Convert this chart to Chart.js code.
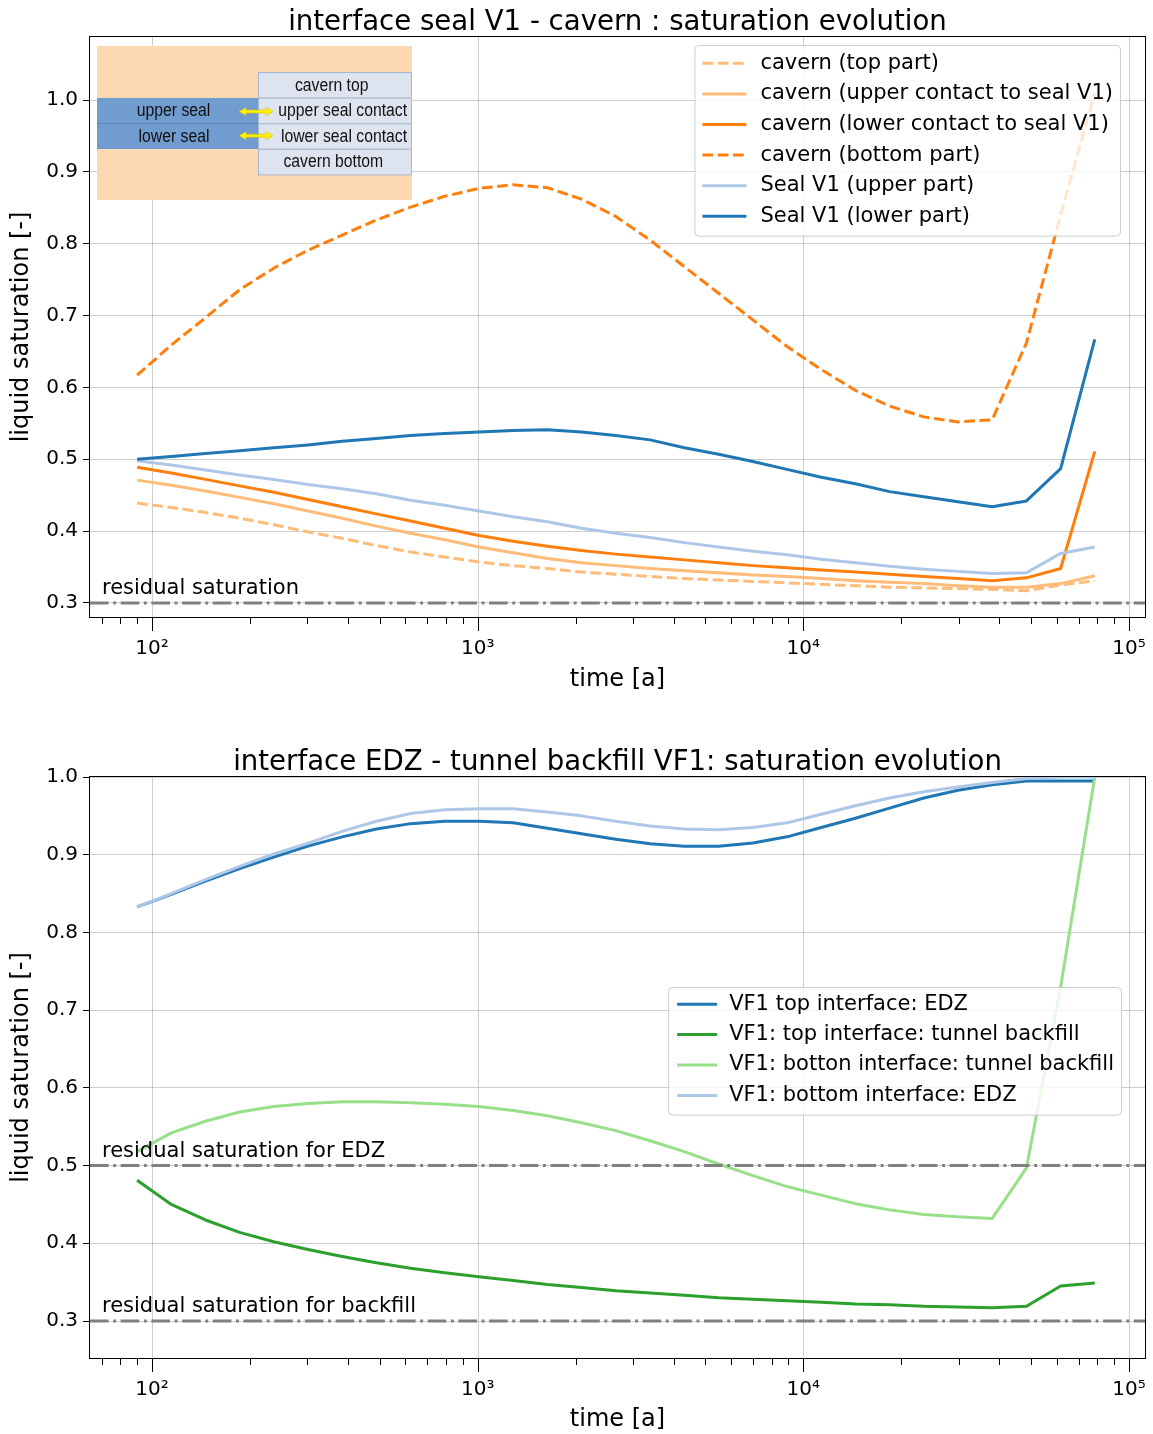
<!DOCTYPE html>
<html><head><meta charset="utf-8">
<script src="https://cdn.jsdelivr.net/npm/chart.js@4.4.1/dist/chart.umd.min.js"></script>
<style>
html,body{margin:0;padding:0;background:#fff;}
#wrap{position:relative;width:1153px;height:1434px;background:#fff;}
canvas{position:absolute;left:0;}
</style></head><body>
<div id="wrap">
<canvas id="c1" width="1153" height="717" style="top:0;width:1153px;height:717px"></canvas>
<canvas id="c2" width="1153" height="717" style="top:717px;width:1153px;height:717px"></canvas>
</div>
<script>
// ---------------- data ----------------
const time = [90, 114.6, 145.9, 185.8, 236.6, 301.3, 383.7, 488.6, 622.2, 792.4, 1009, 1285, 1637, 2084, 2655, 3385, 4313, 5495, 6998, 8913, 11350, 14450, 18410, 23440, 29860, 38030, 48440, 61690, 78520];

// top chart: interface seal V1 - cavern
const cavernTop = [0.439,0.433,0.426,0.418,0.409,0.399,0.390,0.380,0.371,0.364,0.357,0.352,0.348,0.343,0.340,0.337,0.334,0.332,0.330,0.328,0.326,0.324,0.322,0.321,0.320,0.319,0.317,0.325,0.331];
const cavernUpperContact = [0.471,0.464,0.456,0.447,0.438,0.428,0.418,0.407,0.397,0.388,0.378,0.370,0.362,0.356,0.352,0.348,0.345,0.342,0.339,0.337,0.334,0.331,0.329,0.327,0.324,0.322,0.322,0.327,0.338];
const cavernLowerContact = [0.489,0.481,0.472,0.463,0.454,0.444,0.434,0.424,0.414,0.404,0.394,0.386,0.379,0.373,0.368,0.364,0.360,0.356,0.352,0.349,0.346,0.343,0.340,0.337,0.334,0.331,0.335,0.348,0.511];
const cavernBottom = [0.617,0.659,0.697,0.736,0.766,0.791,0.812,0.833,0.851,0.866,0.877,0.882,0.878,0.862,0.838,0.805,0.768,0.731,0.694,0.657,0.625,0.596,0.574,0.559,0.552,0.555,0.662,0.840,1.010];
const sealUpper = [0.498,0.492,0.485,0.478,0.472,0.465,0.459,0.452,0.443,0.436,0.428,0.420,0.413,0.404,0.397,0.391,0.384,0.378,0.372,0.367,0.361,0.356,0.351,0.347,0.344,0.341,0.342,0.369,0.378];
const sealLower = [0.500,0.504,0.508,0.512,0.516,0.520,0.525,0.529,0.533,0.536,0.538,0.540,0.541,0.538,0.533,0.527,0.516,0.507,0.497,0.486,0.475,0.466,0.455,0.448,0.441,0.434,0.442,0.487,0.667];

// bottom chart: interface EDZ - tunnel backfill VF1
const edzTop = [0.833,0.849,0.866,0.882,0.897,0.911,0.923,0.933,0.940,0.943,0.943,0.941,0.934,0.927,0.920,0.914,0.911,0.911,0.915,0.923,0.935,0.947,0.960,0.973,0.983,0.990,0.995,0.995,0.995];
const backfillTop = [0.481,0.450,0.430,0.414,0.402,0.392,0.383,0.375,0.368,0.362,0.357,0.352,0.347,0.343,0.339,0.336,0.333,0.330,0.328,0.326,0.324,0.322,0.321,0.319,0.318,0.317,0.319,0.345,0.349];
const backfillBottom = [0.518,0.542,0.557,0.569,0.576,0.580,0.582,0.582,0.581,0.579,0.576,0.571,0.564,0.555,0.545,0.532,0.518,0.502,0.487,0.473,0.462,0.451,0.443,0.437,0.434,0.432,0.497,0.730,1.000];
const edzBottom = [0.833,0.850,0.868,0.885,0.901,0.915,0.930,0.943,0.953,0.958,0.959,0.959,0.955,0.950,0.943,0.937,0.933,0.932,0.935,0.941,0.952,0.963,0.973,0.981,0.987,0.993,0.998,1.000,1.000];

// axes / ticks
const xTickValues = [70,80,90,100,200,300,400,500,600,700,800,900,1000,2000,3000,4000,5000,6000,7000,8000,9000,10000,20000,30000,40000,50000,60000,70000,80000,90000,100000];
const xMajorTicks = [100, 1000, 10000, 100000];
const xTickLabels = ['10²', '10³', '10⁴', '10⁵'];
const yTicks = [0.3, 0.4, 0.5, 0.6, 0.7, 0.8, 0.9, 1.0];

const residualLevelsTop = [0.3];
const residualLabelsTop = ['residual saturation'];
const residualLevelsBottom = [0.5, 0.3];
const residualLabelsBottom = ['residual saturation for EDZ', 'residual saturation for backfill'];

const insetBoxesRight = ['cavern top', 'upper seal contact', 'lower seal contact', 'cavern bottom'];
const insetBoxesLeft = ['upper seal', 'lower seal'];

// ---------------- styling ----------------
Chart.defaults.font.family = '"DejaVu Sans", sans-serif';
Chart.defaults.color = '#000';
const GRID = 'rgba(176,176,176,0.62)';
const NONE = 'rgba(0,0,0,0)';
const FONT = '"DejaVu Sans", sans-serif';
const DASH = [10.7, 4.6];
const DASHDOT = [18.6, 4.6, 2.9, 4.6];
const majorIndex = v => xMajorTicks.findIndex(m => Math.abs(m - v) < 1e-6 * m);

function ds(label, values, color, dash) {
  return {
    label, data: time.map((t, i) => ({x: t, y: values[i]})),
    borderColor: color, backgroundColor: color, borderWidth: 3,
    borderDash: dash || [], pointRadius: 0, pointHoverRadius: 0, fill: false, tension: 0,
    borderJoinStyle: 'round', borderCapStyle: 'butt', clip: 0
  };
}

// ---------------- plugins ----------------
// vertical grid lines at the decades only (drawn below the data)
const majorGrid = {
  id: 'majorGrid',
  beforeDatasetsDraw(chart) {
    const ctx = chart.ctx, ca = chart.chartArea, xs = chart.scales.x;
    ctx.save();
    ctx.strokeStyle = GRID; ctx.lineWidth = 1;
    ctx.beginPath();
    xs.ticks.forEach(t => {
      if (majorIndex(t.value) < 0) return;
      const px = Math.round(xs.getPixelForValue(t.value)) + 0.5;
      ctx.moveTo(px, ca.top); ctx.lineTo(px, ca.bottom);
    });
    ctx.stroke();
    ctx.restore();
  }
};

const refLines = {
  id: 'refLines',
  afterDatasetsDraw(chart, args, o) {
    const ctx = chart.ctx, ca = chart.chartArea, y = chart.scales.y;
    ctx.save();
    o.levels.forEach((lv, i) => {
      const py = y.getPixelForValue(lv);
      ctx.strokeStyle = '#808080'; ctx.lineWidth = 3; ctx.setLineDash(DASHDOT); ctx.lineCap = 'butt';
      ctx.beginPath(); ctx.moveTo(ca.left, py); ctx.lineTo(ca.right, py); ctx.stroke();
      ctx.setLineDash([]);
      ctx.fillStyle = '#000'; ctx.font = '21px ' + FONT; ctx.textBaseline = 'middle'; ctx.textAlign = 'left';
      ctx.fillText(o.labels[i], ca.left + 12, py - 14);
    });
    ctx.restore();
  }
};

// axes frame and x tick marks (major long, minor short)
const frame = {
  id: 'frame',
  afterDatasetsDraw(chart) {
    const ctx = chart.ctx, ca = chart.chartArea, xs = chart.scales.x;
    ctx.save();
    ctx.strokeStyle = '#000'; ctx.lineWidth = 1;
    ctx.strokeRect(Math.round(ca.left) - 0.5, Math.round(ca.top) - 0.5, Math.round(ca.right - ca.left) + 1, Math.round(ca.bottom - ca.top) + 1);
    ctx.beginPath();
    xs.ticks.forEach(t => {
      const len = majorIndex(t.value) >= 0 ? 14 : 7;
      const px = Math.round(xs.getPixelForValue(t.value)) + 0.5;
      ctx.moveTo(px, ca.bottom); ctx.lineTo(px, ca.bottom + len);
    });
    ctx.stroke();
    ctx.restore();
  }
};

const legendBox = {
  id: 'legendBox',
  afterDraw(chart, args, o) {
    const ctx = chart.ctx, ca = chart.chartArea;
    const items = chart.data.datasets;
    ctx.save();
    ctx.font = '21px ' + FONT;
    let maxW = 0;
    items.forEach(d => { maxW = Math.max(maxW, ctx.measureText(d.label).width); });
    const w = o.textX + maxW + 7;
    const h = o.padTop + o.rowH * items.length + o.padBottom;
    const x = ca.right - o.right - w;
    const y = ca.top + o.top;
    ctx.beginPath();
    ctx.roundRect(x + 0.5, y + 0.5, w, h, 4);
    ctx.fillStyle = 'rgba(255,255,255,0.8)'; ctx.fill();
    ctx.strokeStyle = '#cccccc'; ctx.lineWidth = 1; ctx.stroke();
    items.forEach((d, i) => {
      const cy = y + o.padTop + o.rowH * (i + 0.5);
      ctx.strokeStyle = d.borderColor; ctx.lineWidth = 3; ctx.setLineDash(d.borderDash || []); ctx.lineCap = 'butt';
      ctx.beginPath(); ctx.moveTo(x + o.sampleX, cy); ctx.lineTo(x + o.sampleX + o.sampleLen, cy); ctx.stroke();
      ctx.setLineDash([]);
      ctx.fillStyle = '#000'; ctx.textBaseline = 'middle'; ctx.textAlign = 'left';
      ctx.fillText(d.label, x + o.textX, cy);
    });
    ctx.restore();
  }
};

const inset = {
  id: 'inset',
  afterDraw(chart, args, o) {
    if (!o.show) return;
    const ctx = chart.ctx, ca = chart.chartArea;
    const ox = ca.left, oy = ca.top;
    ctx.save();
    ctx.fillStyle = '#FDD9B3';
    ctx.fillRect(ox + 7, oy + 9, 315, 154);
    ctx.fillStyle = '#719CCF';
    ctx.fillRect(ox + 7, oy + 61, 161, 51);
    ctx.strokeStyle = '#5E88BD'; ctx.lineWidth = 1;
    ctx.beginPath(); ctx.moveTo(ox + 7, oy + 86.5); ctx.lineTo(ox + 168, oy + 86.5); ctx.stroke();
    const rowH = 25.6;
    insetBoxesRight.forEach((t, i) => {
      const by = oy + 35 + rowH * i;
      ctx.fillStyle = '#DDE4EF'; ctx.fillRect(ox + 168, by, 154, rowH);
      ctx.strokeStyle = '#A3B6D2'; ctx.lineWidth = 1; ctx.strokeRect(ox + 168 + 0.5, by + 0.5, 153, rowH);
    });
    const txt = (s, cx, cy) => {
      ctx.save(); ctx.translate(cx, cy); ctx.scale(0.9, 1);
      ctx.font = '17.5px "Liberation Sans", Arial, sans-serif'; ctx.fillStyle = '#111';
      ctx.textAlign = 'center'; ctx.textBaseline = 'middle';
      ctx.fillText(s, 0, 0); ctx.restore();
    };
    const rc = [241.7, 252.7, 254, 243.3];
    insetBoxesRight.forEach((t, i) => txt(t, ox + rc[i], oy + 35 + rowH * (i + 0.5) + 1));
    txt(insetBoxesLeft[0], ox + 83.5, oy + 74.5);
    txt(insetBoxesLeft[1], ox + 84, oy + 100);
    // yellow double arrows
    [74.5, 98.7].forEach(ay => {
      const x1 = ox + 149, x2 = ox + 183, yy = oy + ay;
      ctx.beginPath();
      ctx.moveTo(x1, yy);
      ctx.lineTo(x1 + 7, yy - 4); ctx.lineTo(x1 + 7, yy - 1.5);
      ctx.lineTo(x2 - 7, yy - 1.5); ctx.lineTo(x2 - 7, yy - 4);
      ctx.lineTo(x2, yy);
      ctx.lineTo(x2 - 7, yy + 4); ctx.lineTo(x2 - 7, yy + 1.5);
      ctx.lineTo(x1 + 7, yy + 1.5); ctx.lineTo(x1 + 7, yy + 4);
      ctx.closePath();
      ctx.fillStyle = '#FFF200'; ctx.fill();
      ctx.strokeStyle = '#D9C000'; ctx.lineWidth = 0.6; ctx.stroke();
    });
    ctx.restore();
  }
};

// ---------------- scales ----------------
function makeX(height, titlePad, titleLH) {
  return {
    type: 'logarithmic', min: 64.5, max: 112000,
    afterBuildTicks: s => { s.ticks = xTickValues.map(v => ({value: v, major: majorIndex(v) >= 0})); },
    afterFit: s => { s.height = height; },
    ticks: {
      autoSkip: false, maxRotation: 0, minRotation: 0, padding: 6, font: {size: 20}, color: '#000',
      callback: v => { const i = majorIndex(v); return i >= 0 ? xTickLabels[i] : ''; }
    },
    grid: {drawOnChartArea: false, drawTicks: true, tickLength: 14, tickColor: NONE, color: NONE},
    border: {display: false},
    title: {display: true, text: 'time [a]', font: {size: 24, lineHeight: titleLH}, color: '#000', padding: {top: 0, bottom: titlePad}}
  };
}
function makeY(min, max) {
  return {
    type: 'linear', min, max,
    afterBuildTicks: s => { s.ticks = yTicks.map(v => ({value: v})); },
    afterFit: s => { s.width = 90; },
    ticks: {padding: 5, font: {size: 20}, color: '#000', callback: v => Number(v).toFixed(1)},
    grid: {color: GRID, lineWidth: 1, tickLength: 7, tickWidth: 1, tickColor: '#000'},
    border: {display: false},
    title: {display: true, text: 'liquid saturation [-]', font: {size: 24}, color: '#000', padding: {top: 7.6, bottom: 0}}
  };
}

function withOrder(list) { return list.map((d, i) => Object.assign(d, {order: list.length - i})); }

// ---------------- chart 1 ----------------
new Chart(document.getElementById('c1'), {
  type: 'line',
  data: {datasets: withOrder([
    ds('cavern (top part)', cavernTop, '#ffbb78', DASH),
    ds('cavern (upper contact to seal V1)', cavernUpperContact, '#ffbb78'),
    ds('cavern (lower contact to seal V1)', cavernLowerContact, '#ff7f0e'),
    ds('cavern (bottom part)', cavernBottom, '#ff7f0e', DASH),
    ds('Seal V1 (upper part)', sealUpper, '#aec7e8'),
    ds('Seal V1 (lower part)', sealLower, '#1f77b4')
  ])},
  options: {
    responsive: false, animation: false, devicePixelRatio: 1,
    layout: {padding: {left: 0, right: 8, top: 0, bottom: 0}},
    scales: {x: makeX(100, 22.6, 1.2), y: makeY(0.2805, 1.0877)},
    plugins: {
      legend: {display: false}, tooltip: {enabled: false},
      title: {display: true, fullSize: false, text: 'interface seal V1 - cavern : saturation evolution',
        font: {size: 27.6, weight: 'normal', lineHeight: 1}, color: '#000', padding: {top: 9, bottom: 0.4}},
      refLines: {levels: residualLevelsTop, labels: residualLabelsTop},
      legendBox: {right: 25, top: 8, rowH: 30.6, padTop: 3, padBottom: 4, sampleX: 8, sampleLen: 44, textX: 66},
      inset: {show: true}
    }
  },
  plugins: [majorGrid, refLines, frame, inset, legendBox]
});

// ---------------- chart 2 ----------------
new Chart(document.getElementById('c2'), {
  type: 'line',
  data: {datasets: withOrder([
    ds('VF1 top interface: EDZ', edzTop, '#1f77b4'),
    ds('VF1: top interface: tunnel backfill', backfillTop, '#2ca02c'),
    ds('VF1: botton interface: tunnel backfill', backfillBottom, '#98df8a'),
    ds('VF1: bottom interface: EDZ', edzBottom, '#aec7e8')
  ])},
  options: {
    responsive: false, animation: false, devicePixelRatio: 1,
    layout: {padding: {left: 0, right: 8, top: 0, bottom: 0}},
    scales: {x: makeX(76, 2, 1.0), y: makeY(0.2524, 1.0)},
    plugins: {
      legend: {display: false}, tooltip: {enabled: false},
      title: {display: true, fullSize: false, text: 'interface EDZ - tunnel backfill VF1: saturation evolution',
        font: {size: 27.6, weight: 'normal', lineHeight: 0.9}, color: '#000', padding: {top: 33.6, bottom: 1.56}},
      refLines: {levels: residualLevelsBottom, labels: residualLabelsBottom},
      legendBox: {right: 24, top: 210, rowH: 30.4, padTop: 2, padBottom: 4, sampleX: 9, sampleLen: 40, textX: 61},
      inset: {show: false}
    }
  },
  plugins: [majorGrid, refLines, frame, inset, legendBox]
});
</script>
</body></html>
